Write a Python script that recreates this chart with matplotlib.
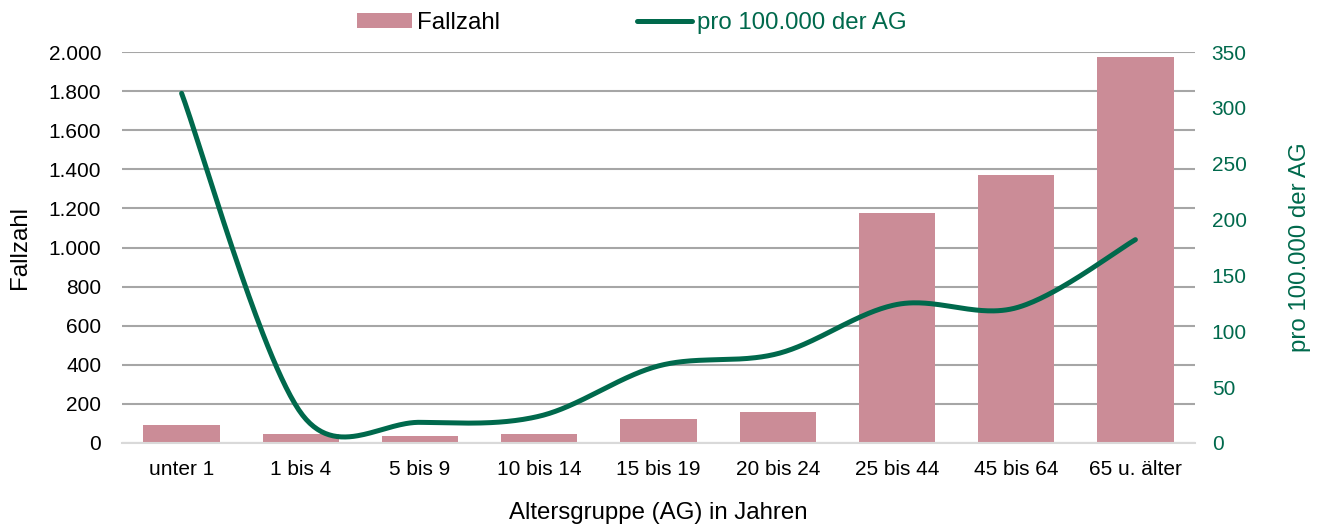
import numpy as np
import matplotlib
matplotlib.use("Agg")
import matplotlib.pyplot as plt
from matplotlib.lines import Line2D
from matplotlib.patches import Patch
from matplotlib.ticker import FuncFormatter

plt.rcParams['font.family'] = ['Liberation Sans', 'DejaVu Sans']

categories = ["unter 1", "1 bis 4", "5 bis 9", "10 bis 14", "15 bis 19",
              "20 bis 24", "25 bis 44", "45 bis 64", "65 u. älter"]
fallzahl = [92, 48, 37, 48, 124, 160, 1176, 1370, 1973]
pro100k = [313, 27, 18.5, 24, 69, 80, 124, 121, 182]

BAR_COLOR = "#CB8C97"
LINE_COLOR = "#00694C"
GRID_COLOR = "#A6A6A6"
TITLE_FS = 17.3
TICK_FS = 15

fig = plt.figure(figsize=(13.24, 5.25), dpi=100)
L, R, T, B = 122, 1195, 52, 443
ax = fig.add_axes([L/1324, 1-B/525, (R-L)/1324, (B-T)/525])
ax2 = ax.twinx()

x = np.arange(len(categories))
ax.bar(x, fallzahl, width=0.64, color=BAR_COLOR, zorder=2)
ax.set_xlim(-0.5, len(categories)-0.5)
ax.set_ylim(0, 2000)
ax.set_yticks(np.arange(0, 2001, 200))
ax.yaxis.set_major_formatter(FuncFormatter(lambda v, p: f"{int(v):,}".replace(",", ".")))
ax.set_xticks(x)
ax.set_xticklabels(categories)
ax.grid(axis='y', color=GRID_COLOR, linewidth=1.5, zorder=0)
ax.set_axisbelow(True)
for s in ['top', 'right', 'left']:
    ax.spines[s].set_visible(False)
ax.spines['bottom'].set_color('#D9D9D9')
ax.spines['bottom'].set_linewidth(1.5)
ax.tick_params(axis='both', length=0, labelsize=TICK_FS, colors='black')
ax.tick_params(axis='x', pad=12)
ax.tick_params(axis='y', pad=15)
ax.set_ylabel("Fallzahl", fontsize=TITLE_FS, va='center')
ax.yaxis.set_label_coords((20-L)/(R-L), 0.5)
ax.set_xlabel("Altersgruppe (AG) in Jahren", fontsize=TITLE_FS, va='center')
ax.xaxis.set_label_coords(0.5, (B-513)/(B-T))

ax2.set_ylim(0, 350)
ax2.set_yticks(np.arange(0, 351, 50))
for s in ax2.spines.values():
    s.set_visible(False)
ax2.tick_params(axis='y', length=0, labelsize=TICK_FS, colors=LINE_COLOR, pad=12)
ax2.set_ylabel("pro 100.000 der AG", fontsize=TITLE_FS, color=LINE_COLOR, va='center')
ax2.yaxis.set_label_coords((1300-L)/(R-L), 0.5)

# Excel-like smoothed line (Bezier through points, computed in pixel space)
fig.canvas.draw()
pts = ax2.transData.transform(np.column_stack([x, pro100k]))
n = len(pts)
curve = [pts[0]]
for i in range(n-1):
    p0 = pts[i-1] if i > 0 else pts[i]
    p1 = pts[i]
    p2 = pts[i+1]
    p3 = pts[i+2] if i+2 < n else pts[i+1]
    d12 = np.linalg.norm(p2-p1)
    d02 = np.linalg.norm(p2-p0)
    d13 = np.linalg.norm(p3-p1)
    f1 = 1/6
    f2 = 1/6
    if d02 > 0 and d02/6 >= d12/2:
        f1 = d12/2/d02
    if d13 > 0 and d13/6 >= d12/2:
        f2 = d12/2/d13
    b1 = p1 + (p2-p0)*f1
    b2 = p2 - (p3-p1)*f2
    t = np.linspace(0, 1, 60)[1:, None]
    seg = (1-t)**3*p1 + 3*(1-t)**2*t*b1 + 3*(1-t)*t**2*b2 + t**3*p2
    curve.extend(seg)
curve = np.array(curve)
cd = ax2.transData.inverted().transform(curve)
ax2.plot(cd[:, 0], cd[:, 1], color=LINE_COLOR, linewidth=3.6,
         solid_capstyle='round', zorder=3)

handles = [Patch(facecolor=BAR_COLOR, edgecolor='none'),
           Line2D([0], [0], color=LINE_COLOR, linewidth=3.6, solid_capstyle='round')]
leg = fig.legend(handles, ["Fallzahl", "pro 100.000 der AG"], loc='center',
                 bbox_to_anchor=(632/1324, 1-23/525), ncol=2, frameon=False,
                 fontsize=TITLE_FS, handlelength=2.3, handletextpad=0.2,
                 columnspacing=5.7, handleheight=0.57, borderpad=0)
leg.get_texts()[1].set_color(LINE_COLOR)

fig.savefig("out.png", dpi=100)
